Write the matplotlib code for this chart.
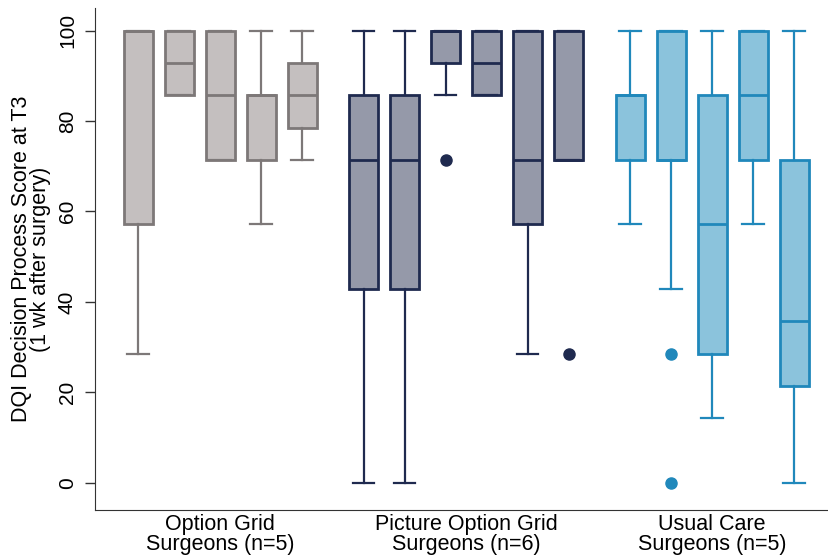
import matplotlib
matplotlib.use("Agg")
import matplotlib.pyplot as plt

plt.rcParams["font.family"] = ["Liberation Sans", "DejaVu Sans"]

S = 100 / 7  # scores come in steps of 1/7

groups = ["Option Grid\nSurgeons (n=5)", "Picture Option Grid\nSurgeons (n=6)", "Usual Care\nSurgeons (n=5)"]

# per-surgeon box stats, in sevenths: (whislo, q1, med, q3, whishi), outliers
option_grid = [
    ((2, 4, 7, 7, 7), []),
    ((6, 6, 6.5, 7, 7), []),
    ((5, 5, 6, 7, 7), []),
    ((4, 5, 6, 6, 7), []),
    ((5, 5.5, 6, 6.5, 7), []),
]
picture_grid = [
    ((0, 3, 5, 6, 7), []),
    ((0, 3, 5, 6, 7), []),
    ((6, 6.5, 7, 7, 7), [5]),
    ((6, 6, 6.5, 7, 7), []),
    ((2, 4, 5, 7, 7), []),
    ((5, 5, 5, 7, 7), [2]),
]
usual_care = [
    ((4, 5, 6, 6, 7), []),
    ((3, 5, 5, 7, 7), [2, 0]),
    ((1, 2, 4, 6, 7), []),
    ((4, 5, 6, 7, 7), []),
    ((0, 1.5, 2.5, 5, 7), []),
]

styles = [
    {"fill": "#c4bfbf", "edge": "#7d7878"},
    {"fill": "#9599a9", "edge": "#1f2a4f"},
    {"fill": "#8bc3dc", "edge": "#2088bb"},
]

fig = plt.figure(figsize=(8.29, 5.59), dpi=100)
ax = fig.add_axes([0.1146, 0.0877, 0.8854, 0.898])

start = 0.0
group_centers = []
for data, st in zip([option_grid, picture_grid, usual_care], styles):
    positions = [start + i for i in range(len(data))]
    stats = []
    for (lo, q1, med, q3, hi), fl in data:
        stats.append({"whislo": lo * S, "q1": q1 * S, "med": med * S,
                      "q3": q3 * S, "whishi": hi * S, "fliers": [f * S for f in fl]})
    ax.bxp(stats, positions=positions, widths=0.71, patch_artist=True, showfliers=True,
           boxprops=dict(facecolor=st["fill"], edgecolor=st["edge"], linewidth=2),
           medianprops=dict(color=st["edge"], linewidth=2),
           whiskerprops=dict(color=st["edge"], linewidth=1.6),
           capprops=dict(color=st["edge"], linewidth=1.6),
           capwidths=0.52,
           flierprops=dict(marker="o", markerfacecolor=st["edge"], markeredgecolor=st["edge"],
                           markersize=8))
    group_centers.append((positions[0] + positions[-1]) / 2)
    start = positions[-1] + 1.5

ax.set_xlim(-1.05, 16.85)
ax.set_ylim(-6, 105)
ax.set_xticks(group_centers)
ax.set_xticklabels(groups, fontsize=15.5, linespacing=0.95)
ax.tick_params(axis="x", length=0, pad=3)
ax.set_yticks([0, 20, 40, 60, 80, 100])
ax.tick_params(axis="y", labelsize=15, labelrotation=90, length=7, width=1, color="#333333", pad=6)
for lbl in ax.get_yticklabels():
    lbl.set_va("center")
ax.set_ylabel("DQI Decision Process Score at T3\n(1 wk after surgery)", fontsize=15.5,
              linespacing=0.85, va="center")
ax.yaxis.set_label_coords(-0.087, 0.5)
for side in ["top", "right"]:
    ax.spines[side].set_visible(False)
ax.spines["left"].set_color("#333333")
ax.spines["bottom"].set_color("#333333")

fig.savefig("out.png", dpi=100)
